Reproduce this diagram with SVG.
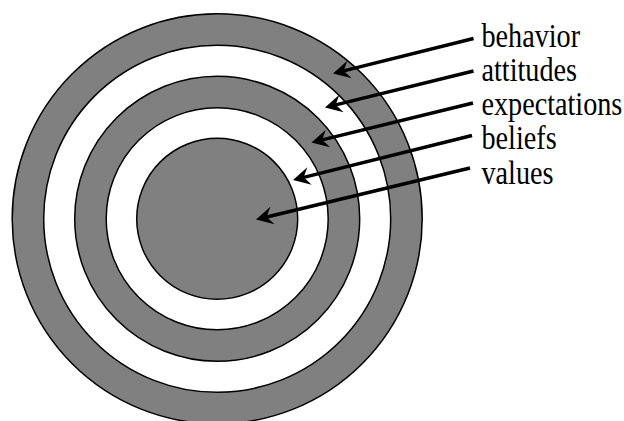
<svg xmlns="http://www.w3.org/2000/svg" width="624" height="421" viewBox="0 0 624 421">
  <style>
    .ring { stroke: #000; stroke-width: 1.5; }
    .gray { fill: #808080; }
    .white { fill: #ffffff; }
    .lbl { font-family: "Liberation Serif", "Times New Roman", serif; font-size: 28.2px; fill: #000; }
    .arrow { stroke: #000; stroke-width: 3.5; fill: none; marker-end: url(#head); }
  </style>
  <defs>
    <marker id="head" markerUnits="userSpaceOnUse" viewBox="0 -10 20 20" markerWidth="20" markerHeight="20" refX="7" refY="0" orient="auto" overflow="visible">
      <path d="M17,0 L0,-9 L6,0 L0,9 Z" fill="#000"/>
    </marker>
  </defs>
  <rect width="624" height="421" fill="#fff"/>
  <g id="behavior-ring"><circle class="ring gray" cx="217.2" cy="218.8" r="205"/></g>
  <g id="attitudes-ring"><circle class="ring white" cx="217.2" cy="218.8" r="173.5"/></g>
  <g id="expectations-ring"><circle class="ring gray" cx="217.2" cy="218.8" r="142.5"/></g>
  <g id="beliefs-ring"><circle class="ring white" cx="217.2" cy="218.8" r="111"/></g>
  <g id="values-core"><circle class="ring gray" cx="217.2" cy="218.8" r="80.5"/></g>
  <g id="connectors">
    <line class="arrow" x1="473.5" y1="38.5" x2="342.7" y2="71.1"/>
    <line class="arrow" x1="473.5" y1="71" x2="334.7" y2="105.1"/>
    <line class="arrow" x1="473" y1="103" x2="321.2" y2="140.1"/>
    <line class="arrow" x1="472" y1="135.5" x2="302.7" y2="177.6"/>
    <line class="arrow" x1="470" y1="168" x2="265.7" y2="217.2"/>
  </g>
  <g id="label-behavior"><text class="lbl" transform="translate(481.5,46.5) scale(1,1.2)">behavior</text></g>
  <g id="label-attitudes"><text class="lbl" transform="translate(481.5,80.8) scale(1,1.2)">attitudes</text></g>
  <g id="label-expectations"><text class="lbl" transform="translate(481.5,115) scale(1,1.2)">expectations</text></g>
  <g id="label-beliefs"><text class="lbl" transform="translate(481.5,149.3) scale(1,1.2)">beliefs</text></g>
  <g id="label-values"><text class="lbl" transform="translate(481.5,183.6) scale(1,1.2)">values</text></g>
</svg>
